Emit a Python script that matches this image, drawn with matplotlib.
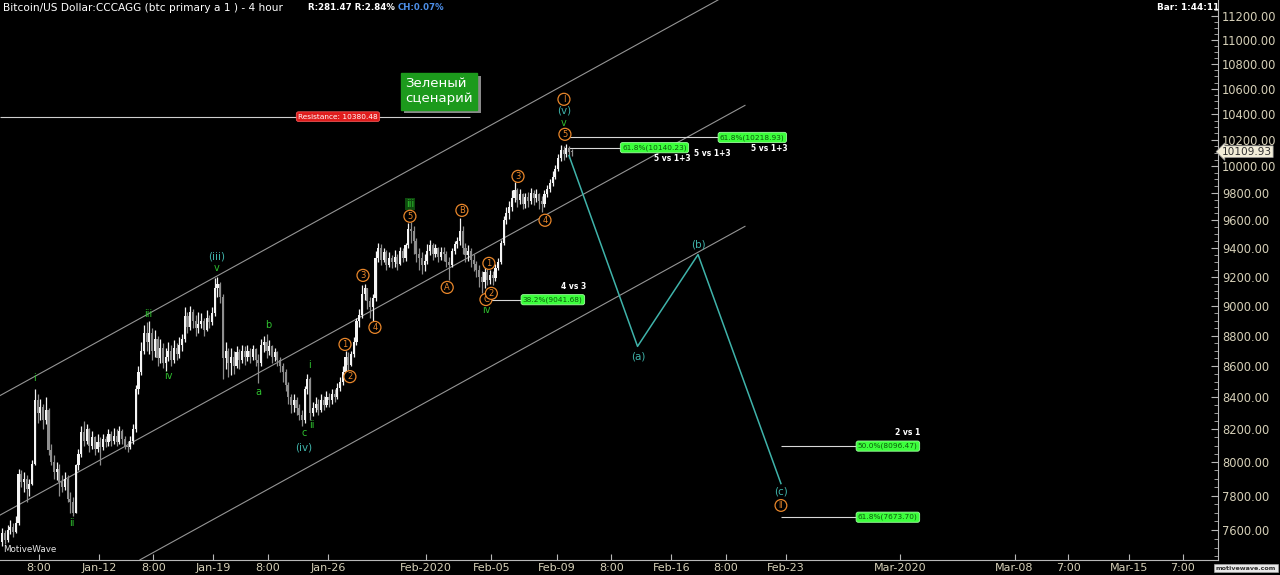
"""BTC/USD 4-hour Elliott-wave chart (MotiveWave style) redrawn with matplotlib."""
import numpy as np
import matplotlib
matplotlib.use("Agg")
import matplotlib.pyplot as plt
import matplotlib.patheffects as pe
from matplotlib.ticker import FixedLocator, FuncFormatter, NullFormatter

# ---- data -------------------------------------------------------------------
# time axis: day number, 0 = 2020-01-01 00:00; six 4-hour bars per day from Jan 6
FIRST_DAY = 5
FIRST_OPEN = 7530

closes = [
    7580, 7545, 7600, 7620, 7590, 7640,      # Jan 6
    7930, 7880, 7900, 7840, 7870, 7990,      # Jan 7
    8380, 8300, 8340, 8260, 8320, 8070,      # Jan 8
    8000, 7940, 7960, 7880, 7850, 7900,      # Jan 9
    7780, 7760, 7700, 7980, 8050, 8180,      # Jan 10
    8130, 8200, 8100, 8150, 8080, 8120,      # Jan 11
    8090, 8140, 8120, 8170, 8130, 8160,      # Jan 12
    8120, 8190, 8140, 8100, 8090, 8130,      # Jan 13
    8200, 8450, 8560, 8700, 8820, 8760,      # Jan 14
    8820, 8700, 8780, 8650, 8720, 8620,      # Jan 15
    8660, 8700, 8640, 8720, 8680, 8740,      # Jan 16
    8780, 8930, 8860, 8960, 8900, 8850,      # Jan 17
    8880, 8900, 8840, 8920, 8890, 8950,      # Jan 18
    9120, 9150, 9060, 8650, 8700, 8620,      # Jan 19
    8660, 8600, 8690, 8640, 8700, 8660,      # Jan 20
    8700, 8660, 8710, 8640, 8620, 8740,      # Jan 21
    8760, 8700, 8730, 8660, 8690, 8640,      # Jan 22
    8600, 8560, 8480, 8400, 8350, 8380,      # Jan 23
    8330, 8290, 8260, 8450, 8520, 8300,      # Jan 24
    8330, 8360, 8320, 8380, 8350, 8400,      # Jan 25
    8380, 8420, 8400, 8460, 8500, 8560,      # Jan 26
    8660, 8610, 8680, 8760, 8900, 8940,      # Jan 27
    9080, 9120, 9030, 8990, 9050, 9330,      # Jan 28
    9400, 9320, 9370, 9280, 9330, 9300,      # Jan 29
    9340, 9290, 9380, 9330, 9420, 9540,      # Jan 30
    9520, 9450, 9360, 9330, 9280, 9310,      # Jan 31
    9380, 9420, 9360, 9400, 9340, 9370,      # Feb 1
    9360, 9300, 9280, 9380, 9430, 9450,      # Feb 2
    9520, 9400, 9350, 9380, 9320, 9290,      # Feb 3
    9250, 9200, 9160, 9230, 9180, 9210,      # Feb 4
    9190, 9260, 9300, 9440, 9600, 9650,      # Feb 5
    9700, 9760, 9820, 9750, 9790, 9720,      # Feb 6
    9770, 9740, 9800, 9760, 9790, 9740,      # Feb 7
    9720, 9790, 9830, 9870, 9920, 9980,      # Feb 8
    10060, 10120, 10090, 10140, 10110, 10109.93,  # Feb 9
]
highs = [
    7610, 7600, 7630, 7660, 7640, 7680,
    7960, 7950, 7940, 7920, 7900, 8010,
    8455, 8420, 8390, 8360, 8400, 8330,
    8110, 8040, 8000, 7990, 7920, 7940,
    7920, 7820, 7790, 7990, 8080, 8220,
    8250, 8230, 8210, 8190, 8160, 8170,
    8150, 8170, 8160, 8200, 8190, 8210,
    8200, 8220, 8200, 8160, 8130, 8160,
    8230, 8480, 8600, 8760, 8870, 8890,
    8900, 8850, 8840, 8800, 8780, 8750,
    8720, 8760, 8740, 8770, 8750, 8790,
    8810, 8990, 8960, 9000, 8980, 8940,
    8960, 8950, 8920, 8970, 8940, 8990,
    9190, 9195, 9160, 9080, 8760, 8720,
    8720, 8700, 8730, 8710, 8740, 8730,
    8740, 8720, 8740, 8720, 8680, 8780,
    8800, 8810, 8770, 8740, 8720, 8700,
    8660, 8620, 8580, 8500, 8420, 8420,
    8400, 8360, 8320, 8470, 8550, 8530,
    8370, 8400, 8390, 8420, 8410, 8440,
    8430, 8450, 8450, 8490, 8530, 8600,
    8700, 8690, 8700, 8790, 8920, 8980,
    9140, 9150, 9120, 9060, 9080, 9380,
    9440, 9430, 9400, 9390, 9370, 9350,
    9390, 9360, 9410, 9400, 9440, 9580,
    9590, 9560, 9470, 9400, 9370, 9360,
    9430, 9460, 9440, 9430, 9410, 9410,
    9410, 9380, 9340, 9400, 9450, 9480,
    9615, 9560, 9440, 9420, 9400, 9360,
    9310, 9280, 9240, 9270, 9260, 9250,
    9240, 9290, 9330, 9460, 9630, 9700,
    9740, 9820, 9880, 9840, 9830, 9800,
    9800, 9810, 9840, 9820, 9830, 9800,
    9780, 9820, 9860, 9900, 9960, 10010,
    10090, 10160, 10150, 10165, 10150, 10130,
]
lows = [
    7510, 7520, 7530, 7575, 7560, 7580,
    7630, 7850, 7820, 7760, 7800, 7860,
    7980, 8240, 8260, 8200, 8230, 8040,
    7980, 7900, 7890, 7800, 7820, 7830,
    7760, 7700, 7680, 7700, 7950, 8030,
    8100, 8110, 8060, 8080, 8040, 8060,
    7980, 8070, 8090, 8100, 8100, 8110,
    8100, 8110, 8110, 8080, 8060, 8080,
    8110, 8180, 8420, 8540, 8680, 8700,
    8680, 8640, 8660, 8600, 8620, 8590,
    8570, 8630, 8600, 8620, 8640, 8650,
    8700, 8760, 8820, 8840, 8850, 8800,
    8820, 8850, 8800, 8830, 8850, 8870,
    8930, 9060, 9020, 8520, 8580, 8530,
    8540, 8550, 8590, 8580, 8620, 8610,
    8630, 8620, 8640, 8600, 8490, 8600,
    8690, 8650, 8670, 8620, 8630, 8600,
    8560, 8500, 8440, 8360, 8300, 8310,
    8290, 8260, 8220, 8240, 8420, 8260,
    8280, 8310, 8290, 8310, 8320, 8340,
    8340, 8360, 8370, 8390, 8440, 8480,
    8560, 8570, 8600, 8660, 8740, 8860,
    8920, 9040, 8980, 8920, 8900, 9030,
    9300, 9280, 9300, 9250, 9270, 9260,
    9270, 9250, 9280, 9300, 9310, 9400,
    9440, 9360, 9300, 9250, 9220, 9240,
    9290, 9350, 9320, 9340, 9300, 9320,
    9310, 9270, 9180, 9270, 9360, 9400,
    9420, 9360, 9300, 9310, 9270, 9240,
    9200, 9130, 9090, 9120, 9140, 9150,
    9140, 9170, 9250, 9290, 9420, 9570,
    9610, 9670, 9730, 9700, 9720, 9680,
    9690, 9700, 9720, 9710, 9730, 9680,
    9660, 9700, 9770, 9810, 9850, 9900,
    9960, 10040, 10050, 10070, 10060, 10080,
]

# price channel lines (start/end day, start/end price)
channel_days = [(4.95, 48.86), (4.95, 50.51), (13.51, 50.51)]
channel_prices = [(8411, 11335), (7686, 10469), (7431, 9556)]

# projected wave (a)-(b)-(c)
proj_days = [39.75, 43.94, 47.64, 52.71]
proj_prices = [10080, 8729, 9355, 7871]

resistance = 10380.48
resistance_end = 33.69
resistance_label_day = 25.62

fib_levels = [10140.23, 10218.93, 9041.68, 8096.47, 7673.70]
fib_pct = ["61.8%", "61.8%", "38.2%", "50.0%", "61.8%"]
fib_start = [39.69, 39.56, 34.85, 52.71, 52.71]
fib_end = [43.0, 48.98, 36.93, 57.42, 57.42]

note_text = ["5 vs 1+3", "5 vs 1+3", "5 vs 1+3", "4 vs 3", "2 vs 1"]
note_days = [46.05, 48.49, 51.98, 40.05, 60.48]
note_prices = [10059, 10097, 10135, 9133, 8180]

green_text = ["i", "ii", "iii", "iv", "v", "a", "b", "c", "i", "ii", "iii", "iv", "v"]
green_days = [7.09, 9.35, 14.0, 15.22, 18.22, 20.73, 21.34, 23.54, 23.9, 24.03, 30.02, 34.67, 39.44]
green_prices = [8521, 7638, 8948, 8534, 9258, 8431, 8868, 8174, 8605, 8224, 9716, 8969, 10329]

teal_text = ["(iii)", "(iv)", "(v)", "(a)", "(b)", "(c)"]
teal_days = [18.22, 23.54, 39.44, 43.97, 47.64, 52.71]
teal_prices = [9343, 8088, 10430, 8663, 9428, 7824]

circ_text = ["1", "2", "3", "4", "5", "A", "B", "C", "1", "2", "3", "4", "5", "I", "II"]
circ_days = [26.05, 26.35, 27.15, 27.88, 30.02, 32.3, 33.2, 34.67, 34.85, 35.0,
             36.63, 38.28, 39.5, 39.44, 52.71]
circ_prices = [8742, 8532, 9209, 8855, 9629, 9126, 9672, 9043, 9293, 9085,
               9923, 9600, 10243, 10517, 7742]

tick_days = [7.333, 11, 14.333, 18, 21.333, 25, 31, 35, 39, 42.333, 46, 49.333,
             53, 60, 67, 70.29, 74, 77.29]
tick_labels = ["8:00", "Jan-12", "8:00", "Jan-19", "8:00", "Jan-26", "Feb-2020",
               "Feb-05", "Feb-09", "8:00", "Feb-16", "8:00", "Feb-23", "Mar-2020",
               "Mar-08", "7:00", "Mar-15", "7:00"]

price_ticks = list(range(7600, 11201, 200))
last_price = 10109.93

# ---- colours ----------------------------------------------------------------
AXIS_TXT = "#d6d0b8"
GREEN = "#2fbf2f"
TEAL = "#3fb3aa"
ORANGE = "#e8862a"
FIB_GREEN = "#3cff3c"

W, H = 1280, 575


def px(x, y):
    """pixel position (from top-left) -> figure fraction"""
    return x / W, 1 - y / H


fig = plt.figure(figsize=(W / 100, H / 100), dpi=100, facecolor="black")
ax = fig.add_axes([0, 15 / H, 1218 / W, 560 / H])
ax.set_facecolor("black")
ax.set_yscale("log")
ax.set_xlim(4.95, 79.44)
ax.set_ylim(7430, 11335)

# candles
c = np.array(closes, dtype=float)
hi = np.array(highs, dtype=float)
lo = np.array(lows, dtype=float)
o = np.r_[FIRST_OPEN, c[:-1]]
t = FIRST_DAY + (np.arange(len(c)) + 0.5) / 6
col = np.where(c >= o, "#f4f4f4", "#8e8e8e")
ax.vlines(t, lo, hi, colors=col, linewidth=0.9, zorder=3)
body_lo = np.minimum(o, c)
body_h = np.maximum(np.abs(c - o), 6)
ax.bar(t, body_h, bottom=body_lo, width=0.13, color=col, linewidth=0, zorder=3)

# channel lines
for d, p in zip(channel_days, channel_prices):
    ax.plot(d, p, color="#959595", linewidth=0.8, zorder=2)

# resistance
ax.hlines(resistance, 4.95, resistance_end, color="#cfcfcf", linewidth=0.8, zorder=2)
ax.text(resistance_label_day, resistance, f"Resistance: {resistance:.2f}",
        fontsize=5.3, color="white", ha="center", va="center", zorder=5,
        bbox=dict(boxstyle="round,pad=0.25,rounding_size=0.3", fc="#e01c1c",
                  ec="#ff6060", lw=0.5))

# projection
ax.plot(proj_days, proj_prices, color=TEAL, linewidth=1.1, zorder=4)

# fib levels
for lvl, pct, d0, d1 in zip(fib_levels, fib_pct, fib_start, fib_end):
    ax.hlines(lvl, d0, d1, color="#d8d8d8", linewidth=0.8, zorder=2)
    ax.text(d1, lvl, f"{pct}({lvl:.2f})", fontsize=5.3, color="#0b5a0b",
            ha="left", va="center", zorder=5,
            bbox=dict(boxstyle="round,pad=0.25,rounding_size=0.3", fc=FIB_GREEN,
                      ec="#9dff9d", lw=0.6))
for s, d, p in zip(note_text, note_days, note_prices):
    ax.text(d, p, s, fontsize=5.5, color="white", fontweight="bold",
            ha="center", va="center", zorder=5)

# wave labels
for s, d, p in zip(green_text, green_days, green_prices):
    kw = {}
    if s == "iii" and d > 25:
        kw["bbox"] = dict(boxstyle="square,pad=0.1", fc="#0e4a0e", ec="none")
    ax.text(d, p, s, fontsize=7, color=GREEN, ha="center", va="center", zorder=6, **kw)
for s, d, p in zip(teal_text, teal_days, teal_prices):
    ax.text(d, p, s, fontsize=7.5, color=TEAL, ha="center", va="center", zorder=6)
for s, d, p in zip(circ_text, circ_days, circ_prices):
    ax.text(d, p, s, fontsize=6 if len(s) == 1 else 5.5, color=ORANGE,
            ha="center", va="center", zorder=6,
            bbox=dict(boxstyle="circle,pad=0.18", fc="black", ec=ORANGE, lw=0.9))

# scenario box
box = ax.text(31.8, 10581, "Зеленый\nсценарий", fontsize=9.5, color="white",
              ha="center", va="center", multialignment="left", zorder=7,
              bbox=dict(boxstyle="square,pad=0.35", fc="#1c9a1c", ec="#1c9a1c"))
box.get_bbox_patch().set_path_effects(
    [pe.withSimplePatchShadow(offset=(2.5, -2.5), shadow_rgbFace="#8a8a8a", alpha=1.0)])

# axes styling
for side in ("top", "left"):
    ax.spines[side].set_visible(False)
ax.spines["right"].set_color("#b8b8b8")
ax.spines["bottom"].set_color("#b8b8b8")
ax.spines["right"].set_linewidth(0.8)
ax.spines["bottom"].set_linewidth(0.8)

ax.yaxis.set_ticks_position("right")
ax.yaxis.set_major_locator(FixedLocator(price_ticks))
ax.yaxis.set_major_formatter(FuncFormatter(lambda v, _: f"{v:.2f}"))
ax.yaxis.set_minor_locator(FixedLocator(list(range(7450, 11300, 50))))
ax.yaxis.set_minor_formatter(NullFormatter())
ax.tick_params(axis="y", which="major", direction="in", length=5, color="#b8b8b8",
               labelcolor=AXIS_TXT, labelsize=8.3, pad=3)
ax.tick_params(axis="y", which="minor", direction="in", length=3, color="#b8b8b8")

ax.xaxis.set_major_locator(FixedLocator(tick_days))
ax.set_xticklabels(tick_labels)
ax.tick_params(axis="x", direction="in", length=4, color="#b8b8b8",
               labelcolor=AXIS_TXT, labelsize=8, pad=2)

# current price marker
ax.annotate(f"{last_price:.2f}", xy=(1, last_price), xycoords=("axes fraction", "data"),
            xytext=(3, 0), textcoords="offset points", ha="left", va="center",
            fontsize=7.6, color="#303030", annotation_clip=False, zorder=8,
            bbox=dict(boxstyle="larrow,pad=0.08", fc="#f2edd8", ec="#9a9a9a", lw=0.5))

# header / watermarks
fig.text(*px(3, 8), "Bitcoin/US Dollar:CCCAGG (btc primary a 1 ) - 4 hour",
         fontsize=7.6, color="white", va="center")
fig.text(*px(308, 8), "R:281.47 R:2.84%", fontsize=6.2, color="white",
         fontweight="bold", va="center")
fig.text(*px(398, 8), "CH:0.07%", fontsize=6.2, color="#4d8fe8",
         fontweight="bold", va="center")
fig.text(*px(1157, 7), "Bar: 1:44:11", fontsize=6.4, color="white",
         fontweight="bold", va="center")
fig.text(*px(3, 549), "MotiveWave", fontsize=6.3, color="#e8e8e8", va="center")
fig.text(*px(1246, 568), "motivewave.com", fontsize=4.6, color="#303030",
         ha="center", va="center", fontweight="bold",
         bbox=dict(boxstyle="square,pad=0.25", fc="#e8e8e8", ec="#b0b0b0", lw=0.4))

fig.savefig("out.png", dpi=100, facecolor="black")
